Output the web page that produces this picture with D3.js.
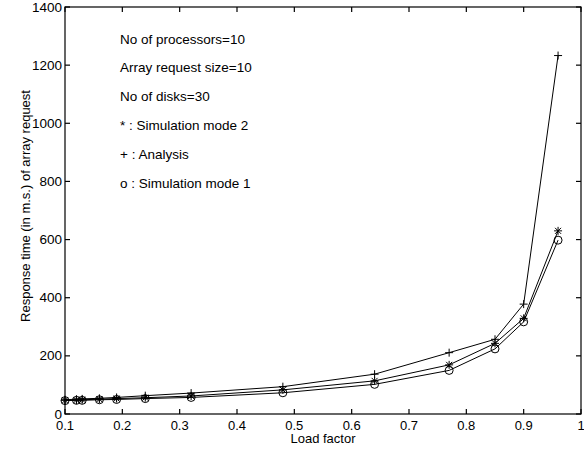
<!DOCTYPE html>
<html><head><meta charset="utf-8">
<script src="https://cdn.jsdelivr.net/npm/d3@7"></script>
<style>body{margin:0;background:#fff}svg{display:block}text{font-family:"Liberation Sans",Arial,sans-serif}</style>
</head><body>
<svg id="c" width="584" height="455"></svg>
<script>
const loadFactor = [0.1,0.12,0.13,0.16,0.19,0.24,0.32,0.48,0.64,0.77,0.85,0.9,0.96];
const analysis   = [49,51,52,54,57,63,72,94,137,211,257,378,1233];
const simMode2   = [47,48,49,51,53,56,62,83,114,169,243,329,630];
const simMode1   = [46,47,47,49,50,53,57,73,102,150,224,317,598];
const xTicks = [0.1,0.2,0.3,0.4,0.5,0.6,0.7,0.8,0.9,1];
const yTicks = [0,200,400,600,800,1000,1200,1400];
const notes = ["No of processors=10","Array request size=10","No of disks=30","* : Simulation mode 2","+ : Analysis","o : Simulation mode 1"];

const svg = d3.select("#c");
const L=65, R=581, T=7, B=414;
const x = d3.scaleLinear().domain([0.1,1]).range([L,R]);
const y = d3.scaleLinear().domain([0,1400]).range([B,T]);

// axes with inward ticks
const tk=5;
const ax = svg.append("g").attr("stroke","#000").attr("stroke-width",1.2);
ax.append("rect").attr("x",L).attr("y",T).attr("width",R-L).attr("height",B-T).attr("fill","none");
xTicks.forEach(t=>{
  ax.append("line").attr("x1",x(t)).attr("x2",x(t)).attr("y1",B).attr("y2",B-tk);
  ax.append("line").attr("x1",x(t)).attr("x2",x(t)).attr("y1",T).attr("y2",T+tk);
});
yTicks.forEach(t=>{
  ax.append("line").attr("y1",y(t)).attr("y2",y(t)).attr("x1",L).attr("x2",L+tk);
  ax.append("line").attr("y1",y(t)).attr("y2",y(t)).attr("x1",R).attr("x2",R-tk);
});
svg.append("g").selectAll("text").data(xTicks).join("text")
  .attr("x",d=>x(d)).attr("y",B+15.5).attr("text-anchor","middle").attr("font-size",13)
  .text(d=>d===1?"1":d.toFixed(1));
svg.append("g").selectAll("text").data(yTicks).join("text")
  .attr("x",L-3).attr("y",d=>y(d)+4.5).attr("text-anchor","end").attr("font-size",13.5)
  .text(d=>String(d));
svg.append("text").attr("x",(L+R)/2).attr("y",443).attr("text-anchor","middle").attr("font-size",13).text("Load factor");
svg.append("text").attr("transform",`translate(30,206) rotate(-90)`).attr("text-anchor","middle").attr("font-size",13).text("Response time (in m.s.) of array request");

// lines
const line = d3.line().x((d,i)=>x(loadFactor[i])).y(d=>y(d));
[analysis,simMode2,simMode1].forEach(s=>{
  svg.append("path").attr("d",line(s)).attr("fill","none").attr("stroke","#000").attr("stroke-width",1);
});
// markers
const g = svg.append("g").attr("stroke","#000").attr("fill","none").attr("stroke-width",1);
const m=4;
analysis.forEach((v,i)=>{
  const cx=x(loadFactor[i]), cy=y(v);
  g.append("path").attr("d",`M${cx-m},${cy}H${cx+m}M${cx},${cy-m}V${cy+m}`);
});
simMode2.forEach((v,i)=>{
  const cx=x(loadFactor[i]), cy=y(v), d=m*0.75;
  g.append("path").attr("d",`M${cx-m},${cy}H${cx+m}M${cx},${cy-m}V${cy+m}M${cx-d},${cy-d}L${cx+d},${cy+d}M${cx-d},${cy+d}L${cx+d},${cy-d}`);
});
simMode1.forEach((v,i)=>{
  g.append("circle").attr("cx",x(loadFactor[i])).attr("cy",y(v)).attr("r",4);
});

// notes
svg.append("g").selectAll("text").data(notes).join("text")
  .attr("x",120).attr("y",(d,i)=>43.5+i*28.8).attr("font-size",13.5).text(d=>d);
</script>
</body></html>
